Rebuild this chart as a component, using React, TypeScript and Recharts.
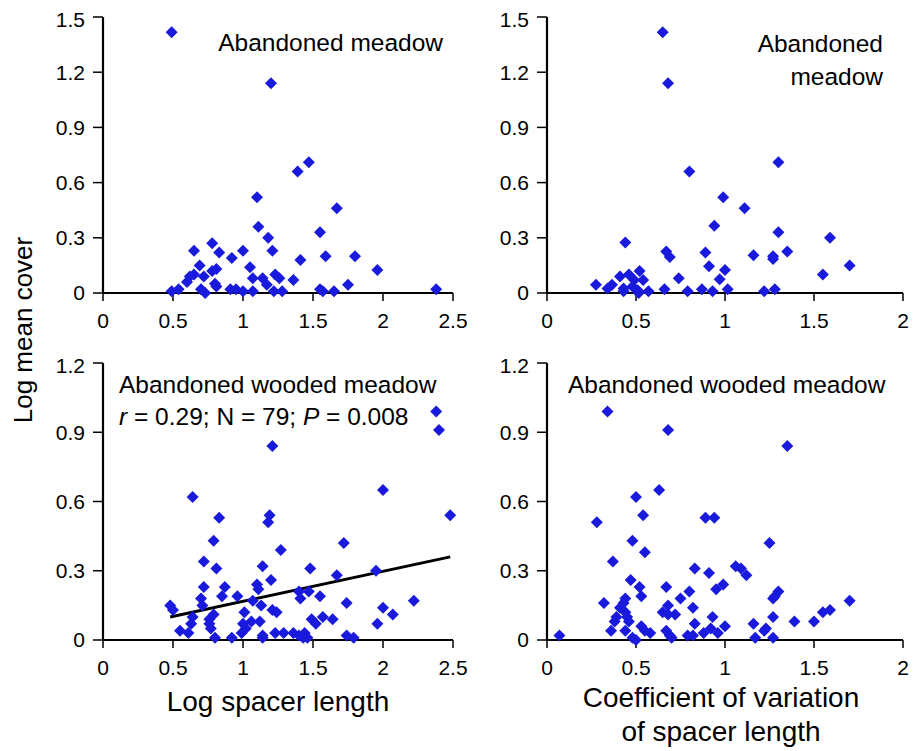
import { ScatterChart, Scatter, XAxis, YAxis, ReferenceLine } from "recharts";

const FONT = "'Liberation Sans', Arial, Helvetica, sans-serif";
const BLUE = "#1a1adc";

const lengthTicks = [0, 0.5, 1, 1.5, 2, 2.5];
const cvTicks = [0, 0.5, 1, 1.5, 2];
const meadowTicks = [0, 0.3, 0.6, 0.9, 1.2, 1.5];
const woodedTicks = [0, 0.3, 0.6, 0.9, 1.2];

// abandoned meadow, log spacer length vs log mean cover
const meadowLength = [
  { x: 0.49, y: 1.417 }, { x: 1.2, y: 1.14 }, { x: 1.47, y: 0.71 }, { x: 1.39, y: 0.66 },
  { x: 1.1, y: 0.52 }, { x: 1.67, y: 0.46 }, { x: 1.11, y: 0.36 }, { x: 1.55, y: 0.33 },
  { x: 1.18, y: 0.3 }, { x: 0.78, y: 0.27 }, { x: 0.65, y: 0.23 }, { x: 0.83, y: 0.22 },
  { x: 1.0, y: 0.23 }, { x: 1.21, y: 0.23 }, { x: 0.92, y: 0.19 }, { x: 1.59, y: 0.2 },
  { x: 1.8, y: 0.2 }, { x: 1.41, y: 0.18 }, { x: 0.69, y: 0.15 }, { x: 1.05, y: 0.14 },
  { x: 0.81, y: 0.13 }, { x: 0.78, y: 0.12 }, { x: 1.96, y: 0.125 }, { x: 0.65, y: 0.1 },
  { x: 0.62, y: 0.09 }, { x: 0.6, y: 0.06 }, { x: 0.72, y: 0.09 }, { x: 1.07, y: 0.08 },
  { x: 1.14, y: 0.08 }, { x: 1.23, y: 0.1 }, { x: 1.26, y: 0.08 }, { x: 1.36, y: 0.07 },
  { x: 0.8, y: 0.05 }, { x: 0.81, y: 0.035 }, { x: 1.17, y: 0.045 }, { x: 1.75, y: 0.045 },
  { x: 0.49, y: 0.01 }, { x: 0.54, y: 0.02 }, { x: 0.7, y: 0.02 }, { x: 0.73, y: 0.0 },
  { x: 0.91, y: 0.02 }, { x: 0.95, y: 0.02 }, { x: 1.0, y: 0.01 }, { x: 1.07, y: 0.01 },
  { x: 1.22, y: 0.01 }, { x: 1.28, y: 0.01 }, { x: 1.55, y: 0.02 }, { x: 1.57, y: 0.01 },
  { x: 1.65, y: 0.01 }, { x: 2.38, y: 0.02 },
];

// abandoned meadow, CV of spacer length
const meadowCv = [
  { x: 0.65, y: 1.417 }, { x: 0.68, y: 1.14 }, { x: 1.3, y: 0.71 }, { x: 0.8, y: 0.66 },
  { x: 0.99, y: 0.52 }, { x: 1.11, y: 0.46 }, { x: 0.94, y: 0.365 }, { x: 1.3, y: 0.33 },
  { x: 1.59, y: 0.3 }, { x: 0.44, y: 0.275 }, { x: 0.67, y: 0.225 }, { x: 0.69, y: 0.195 },
  { x: 0.89, y: 0.22 }, { x: 1.16, y: 0.205 }, { x: 1.27, y: 0.2 }, { x: 1.27, y: 0.185 },
  { x: 1.35, y: 0.225 }, { x: 0.91, y: 0.145 }, { x: 1.0, y: 0.125 }, { x: 1.7, y: 0.15 },
  { x: 1.55, y: 0.1 }, { x: 0.97, y: 0.075 }, { x: 0.74, y: 0.08 }, { x: 0.52, y: 0.12 },
  { x: 0.41, y: 0.09 }, { x: 0.46, y: 0.1 }, { x: 0.49, y: 0.07 }, { x: 0.54, y: 0.07 },
  { x: 0.275, y: 0.045 }, { x: 0.365, y: 0.045 }, { x: 0.34, y: 0.025 }, { x: 0.43, y: 0.025 },
  { x: 0.48, y: 0.035 }, { x: 0.51, y: 0.015 }, { x: 0.57, y: 0.01 }, { x: 0.66, y: 0.02 },
  { x: 0.79, y: 0.01 }, { x: 0.87, y: 0.02 }, { x: 0.93, y: 0.01 }, { x: 1.015, y: 0.02 },
  { x: 1.22, y: 0.01 }, { x: 1.28, y: 0.02 }, { x: 0.43, y: 0.01 }, { x: 0.515, y: 0.0 },
];

// abandoned wooded meadow, log spacer length
const woodedLength = [
  { x: 2.38, y: 0.99 }, { x: 2.4, y: 0.91 }, { x: 1.21, y: 0.84 }, { x: 2.0, y: 0.65 },
  { x: 0.64, y: 0.62 }, { x: 2.48, y: 0.54 }, { x: 0.83, y: 0.53 }, { x: 1.19, y: 0.54 },
  { x: 1.18, y: 0.51 }, { x: 0.79, y: 0.43 }, { x: 1.72, y: 0.42 }, { x: 1.27, y: 0.39 },
  { x: 0.72, y: 0.34 }, { x: 1.14, y: 0.32 }, { x: 0.81, y: 0.31 }, { x: 1.48, y: 0.31 },
  { x: 1.67, y: 0.28 }, { x: 1.95, y: 0.3 }, { x: 1.2, y: 0.26 }, { x: 1.1, y: 0.24 },
  { x: 0.72, y: 0.23 }, { x: 0.87, y: 0.23 }, { x: 1.11, y: 0.22 }, { x: 1.4, y: 0.21 },
  { x: 1.47, y: 0.21 }, { x: 0.7, y: 0.18 }, { x: 0.85, y: 0.19 }, { x: 0.96, y: 0.19 },
  { x: 1.07, y: 0.17 }, { x: 1.41, y: 0.18 }, { x: 1.55, y: 0.19 }, { x: 0.48, y: 0.15 },
  { x: 0.5, y: 0.13 }, { x: 0.71, y: 0.15 }, { x: 1.13, y: 0.15 }, { x: 1.21, y: 0.13 },
  { x: 1.24, y: 0.12 }, { x: 1.74, y: 0.16 }, { x: 2.22, y: 0.17 }, { x: 2.0, y: 0.14 },
  { x: 2.07, y: 0.11 }, { x: 1.01, y: 0.12 }, { x: 0.79, y: 0.11 }, { x: 0.64, y: 0.1 },
  { x: 0.76, y: 0.09 }, { x: 0.63, y: 0.07 }, { x: 1.57, y: 0.1 }, { x: 1.64, y: 0.09 },
  { x: 1.49, y: 0.09 }, { x: 1.52, y: 0.07 }, { x: 1.96, y: 0.07 }, { x: 1.06, y: 0.08 },
  { x: 1.12, y: 0.08 }, { x: 1.0, y: 0.07 }, { x: 1.02, y: 0.05 }, { x: 0.76, y: 0.07 },
  { x: 0.77, y: 0.05 }, { x: 0.55, y: 0.04 }, { x: 0.61, y: 0.03 }, { x: 0.99, y: 0.03 },
  { x: 1.14, y: 0.02 }, { x: 1.23, y: 0.03 }, { x: 1.29, y: 0.03 }, { x: 1.36, y: 0.03 },
  { x: 1.4, y: 0.02 }, { x: 1.44, y: 0.03 }, { x: 1.43, y: 0.01 }, { x: 1.46, y: 0.01 },
  { x: 1.74, y: 0.02 }, { x: 1.79, y: 0.01 }, { x: 0.8, y: 0.01 }, { x: 0.92, y: 0.01 },
  { x: 1.14, y: 0.01 },
];

const woodedTrend = [
  { x: 0.48, y: 0.1 },
  { x: 2.48, y: 0.36 },
];

// abandoned wooded meadow, CV of spacer length
const woodedCv = [
  { x: 0.34, y: 0.99 }, { x: 0.68, y: 0.91 }, { x: 1.35, y: 0.84 }, { x: 0.63, y: 0.65 },
  { x: 0.5, y: 0.62 }, { x: 0.28, y: 0.51 }, { x: 0.54, y: 0.54 }, { x: 0.89, y: 0.53 },
  { x: 0.94, y: 0.53 }, { x: 1.25, y: 0.42 }, { x: 0.48, y: 0.43 }, { x: 0.55, y: 0.38 },
  { x: 0.37, y: 0.34 }, { x: 0.83, y: 0.31 }, { x: 0.91, y: 0.29 }, { x: 1.06, y: 0.32 },
  { x: 1.09, y: 0.31 }, { x: 1.12, y: 0.28 }, { x: 0.47, y: 0.26 }, { x: 0.52, y: 0.23 },
  { x: 0.67, y: 0.23 }, { x: 0.99, y: 0.24 }, { x: 0.95, y: 0.22 }, { x: 0.8, y: 0.21 },
  { x: 0.53, y: 0.19 }, { x: 0.75, y: 0.18 }, { x: 1.3, y: 0.21 }, { x: 1.28, y: 0.19 },
  { x: 1.27, y: 0.18 }, { x: 1.7, y: 0.17 }, { x: 0.32, y: 0.16 }, { x: 0.44, y: 0.18 },
  { x: 0.43, y: 0.16 }, { x: 0.41, y: 0.14 }, { x: 0.44, y: 0.12 }, { x: 0.68, y: 0.15 },
  { x: 0.65, y: 0.12 }, { x: 0.68, y: 0.11 }, { x: 0.72, y: 0.11 }, { x: 0.82, y: 0.14 },
  { x: 1.59, y: 0.13 }, { x: 1.55, y: 0.12 }, { x: 0.39, y: 0.1 }, { x: 0.38, y: 0.08 },
  { x: 0.45, y: 0.1 }, { x: 0.46, y: 0.08 }, { x: 0.93, y: 0.1 }, { x: 0.83, y: 0.07 },
  { x: 1.27, y: 0.1 }, { x: 1.39, y: 0.08 }, { x: 1.5, y: 0.08 }, { x: 1.16, y: 0.07 },
  { x: 0.36, y: 0.04 }, { x: 0.44, y: 0.04 }, { x: 0.53, y: 0.06 }, { x: 0.58, y: 0.03 },
  { x: 0.55, y: 0.04 }, { x: 0.67, y: 0.04 }, { x: 0.7, y: 0.01 }, { x: 0.79, y: 0.02 },
  { x: 0.82, y: 0.02 }, { x: 0.88, y: 0.03 }, { x: 0.92, y: 0.05 }, { x: 0.96, y: 0.03 },
  { x: 1.0, y: 0.06 }, { x: 1.23, y: 0.05 }, { x: 1.22, y: 0.04 }, { x: 1.17, y: 0.01 },
  { x: 1.27, y: 0.01 }, { x: 0.07, y: 0.02 }, { x: 0.48, y: 0.01 }, { x: 0.5, y: 0.0 },
  { x: 0.69, y: 0.02 },
];

function Diamond(props: any) {
  const { cx, cy } = props;
  if (cx == null || cy == null) return null;
  const r = 6;
  return <path d={`M${cx},${cy - r}L${cx + r},${cy}L${cx},${cy + r}L${cx - r},${cy}Z`} fill={BLUE} />;
}

const tickStyle = { fontSize: 21, fill: "#000", fontFamily: FONT };

interface PanelProps {
  left: number;
  top: number;
  w: number;
  h: number;
  data: { x: number; y: number }[];
  xTicks: number[];
  yTicks: number[];
  trend?: { x: number; y: number }[];
}

function Panel({ left, top, w, h, data, xTicks, yTicks, trend }: PanelProps) {
  const xMax = xTicks[xTicks.length - 1];
  const yMax = yTicks[yTicks.length - 1];
  return (
    <div style={{ position: "absolute", left: left - 63, top: top - 10 }}>
      <ScatterChart width={w + 63 + 14} height={h + 10 + 45} margin={{ top: 10, right: 14, bottom: 0, left: 0 }}>
        {/* top and right frame lines */}
        <XAxis xAxisId="top" orientation="top" type="number" domain={[0, xMax]} height={0} tick={false} tickLine={false} axisLine={{ stroke: "#555", strokeWidth: 1.3 }} />
        <YAxis yAxisId="right" orientation="right" type="number" domain={[0, yMax]} width={0} tick={false} tickLine={false} axisLine={{ stroke: "#555", strokeWidth: 1.3 }} />
        <XAxis
          type="number"
          dataKey="x"
          domain={[0, xMax]}
          ticks={xTicks}
          height={45}
          tick={tickStyle}
          tickSize={8}
          tickMargin={12}
          axisLine={{ stroke: "#000", strokeWidth: 2.2 }}
          tickLine={{ stroke: "#000", strokeWidth: 1.5 }}
        />
        <YAxis
          type="number"
          dataKey="y"
          domain={[0, yMax]}
          ticks={yTicks}
          width={63}
          tick={tickStyle}
          tickSize={10}
          tickMargin={8}
          axisLine={{ stroke: "#000", strokeWidth: 2.2 }}
          tickLine={{ stroke: "#000", strokeWidth: 1.5 }}
        />
        <Scatter data={data} shape={Diamond} isAnimationActive={false} />
        {trend && <ReferenceLine segment={trend} stroke="#000" strokeWidth={3} />}
      </ScatterChart>
    </div>
  );
}

const textStyle = { position: "absolute" as const, fontFamily: FONT, color: "#000", whiteSpace: "nowrap" as const };

export default function App() {
  return (
    <div style={{ position: "absolute", left: 0, top: 0, width: 914, height: 751, background: "#fff" }}>
      <Panel left={103} top={17} w={350} h={276} data={meadowLength} xTicks={lengthTicks} yTicks={meadowTicks} />
      <Panel left={547} top={17} w={356} h={276} data={meadowCv} xTicks={cvTicks} yTicks={meadowTicks} />
      <Panel left={103} top={363} w={350} h={277} data={woodedLength} xTicks={lengthTicks} yTicks={woodedTicks} trend={woodedTrend} />
      <Panel left={547} top={363} w={356} h={277} data={woodedCv} xTicks={cvTicks} yTicks={woodedTicks} />

      <div style={{ ...textStyle, left: 193, width: 250, top: 29, fontSize: 24.5, lineHeight: "28px", textAlign: "right" }}>
        Abandoned meadow
      </div>
      <div style={{ ...textStyle, left: 700, width: 183, top: 27, fontSize: 24.5, lineHeight: "33px", textAlign: "right" }}>
        Abandoned
        <br />
        meadow
      </div>
      <div style={{ ...textStyle, left: 119, top: 369, fontSize: 24.5, lineHeight: "32px" }}>
        Abandoned wooded meadow
        <br />
        <i>r</i> = 0.29; N = 79; <i>P</i> = 0.008
      </div>
      <div style={{ ...textStyle, left: 568, top: 369, fontSize: 24.5, lineHeight: "32px" }}>
        Abandoned wooded meadow
      </div>

      <div style={{ ...textStyle, left: 78, width: 400, top: 684, fontSize: 28, lineHeight: "36px", textAlign: "center" }}>
        Log spacer length
      </div>
      <div style={{ ...textStyle, left: 521, width: 400, top: 681, fontSize: 28, lineHeight: "34px", textAlign: "center" }}>
        Coefficient of variation
        <br />
        of spacer length
      </div>
      <div
        style={{
          ...textStyle,
          left: 23 - 150,
          width: 300,
          top: 330 - 18,
          fontSize: 26,
          lineHeight: "36px",
          textAlign: "center",
          transform: "rotate(-90deg)",
        }}
      >
        Log mean cover
      </div>
    </div>
  );
}
